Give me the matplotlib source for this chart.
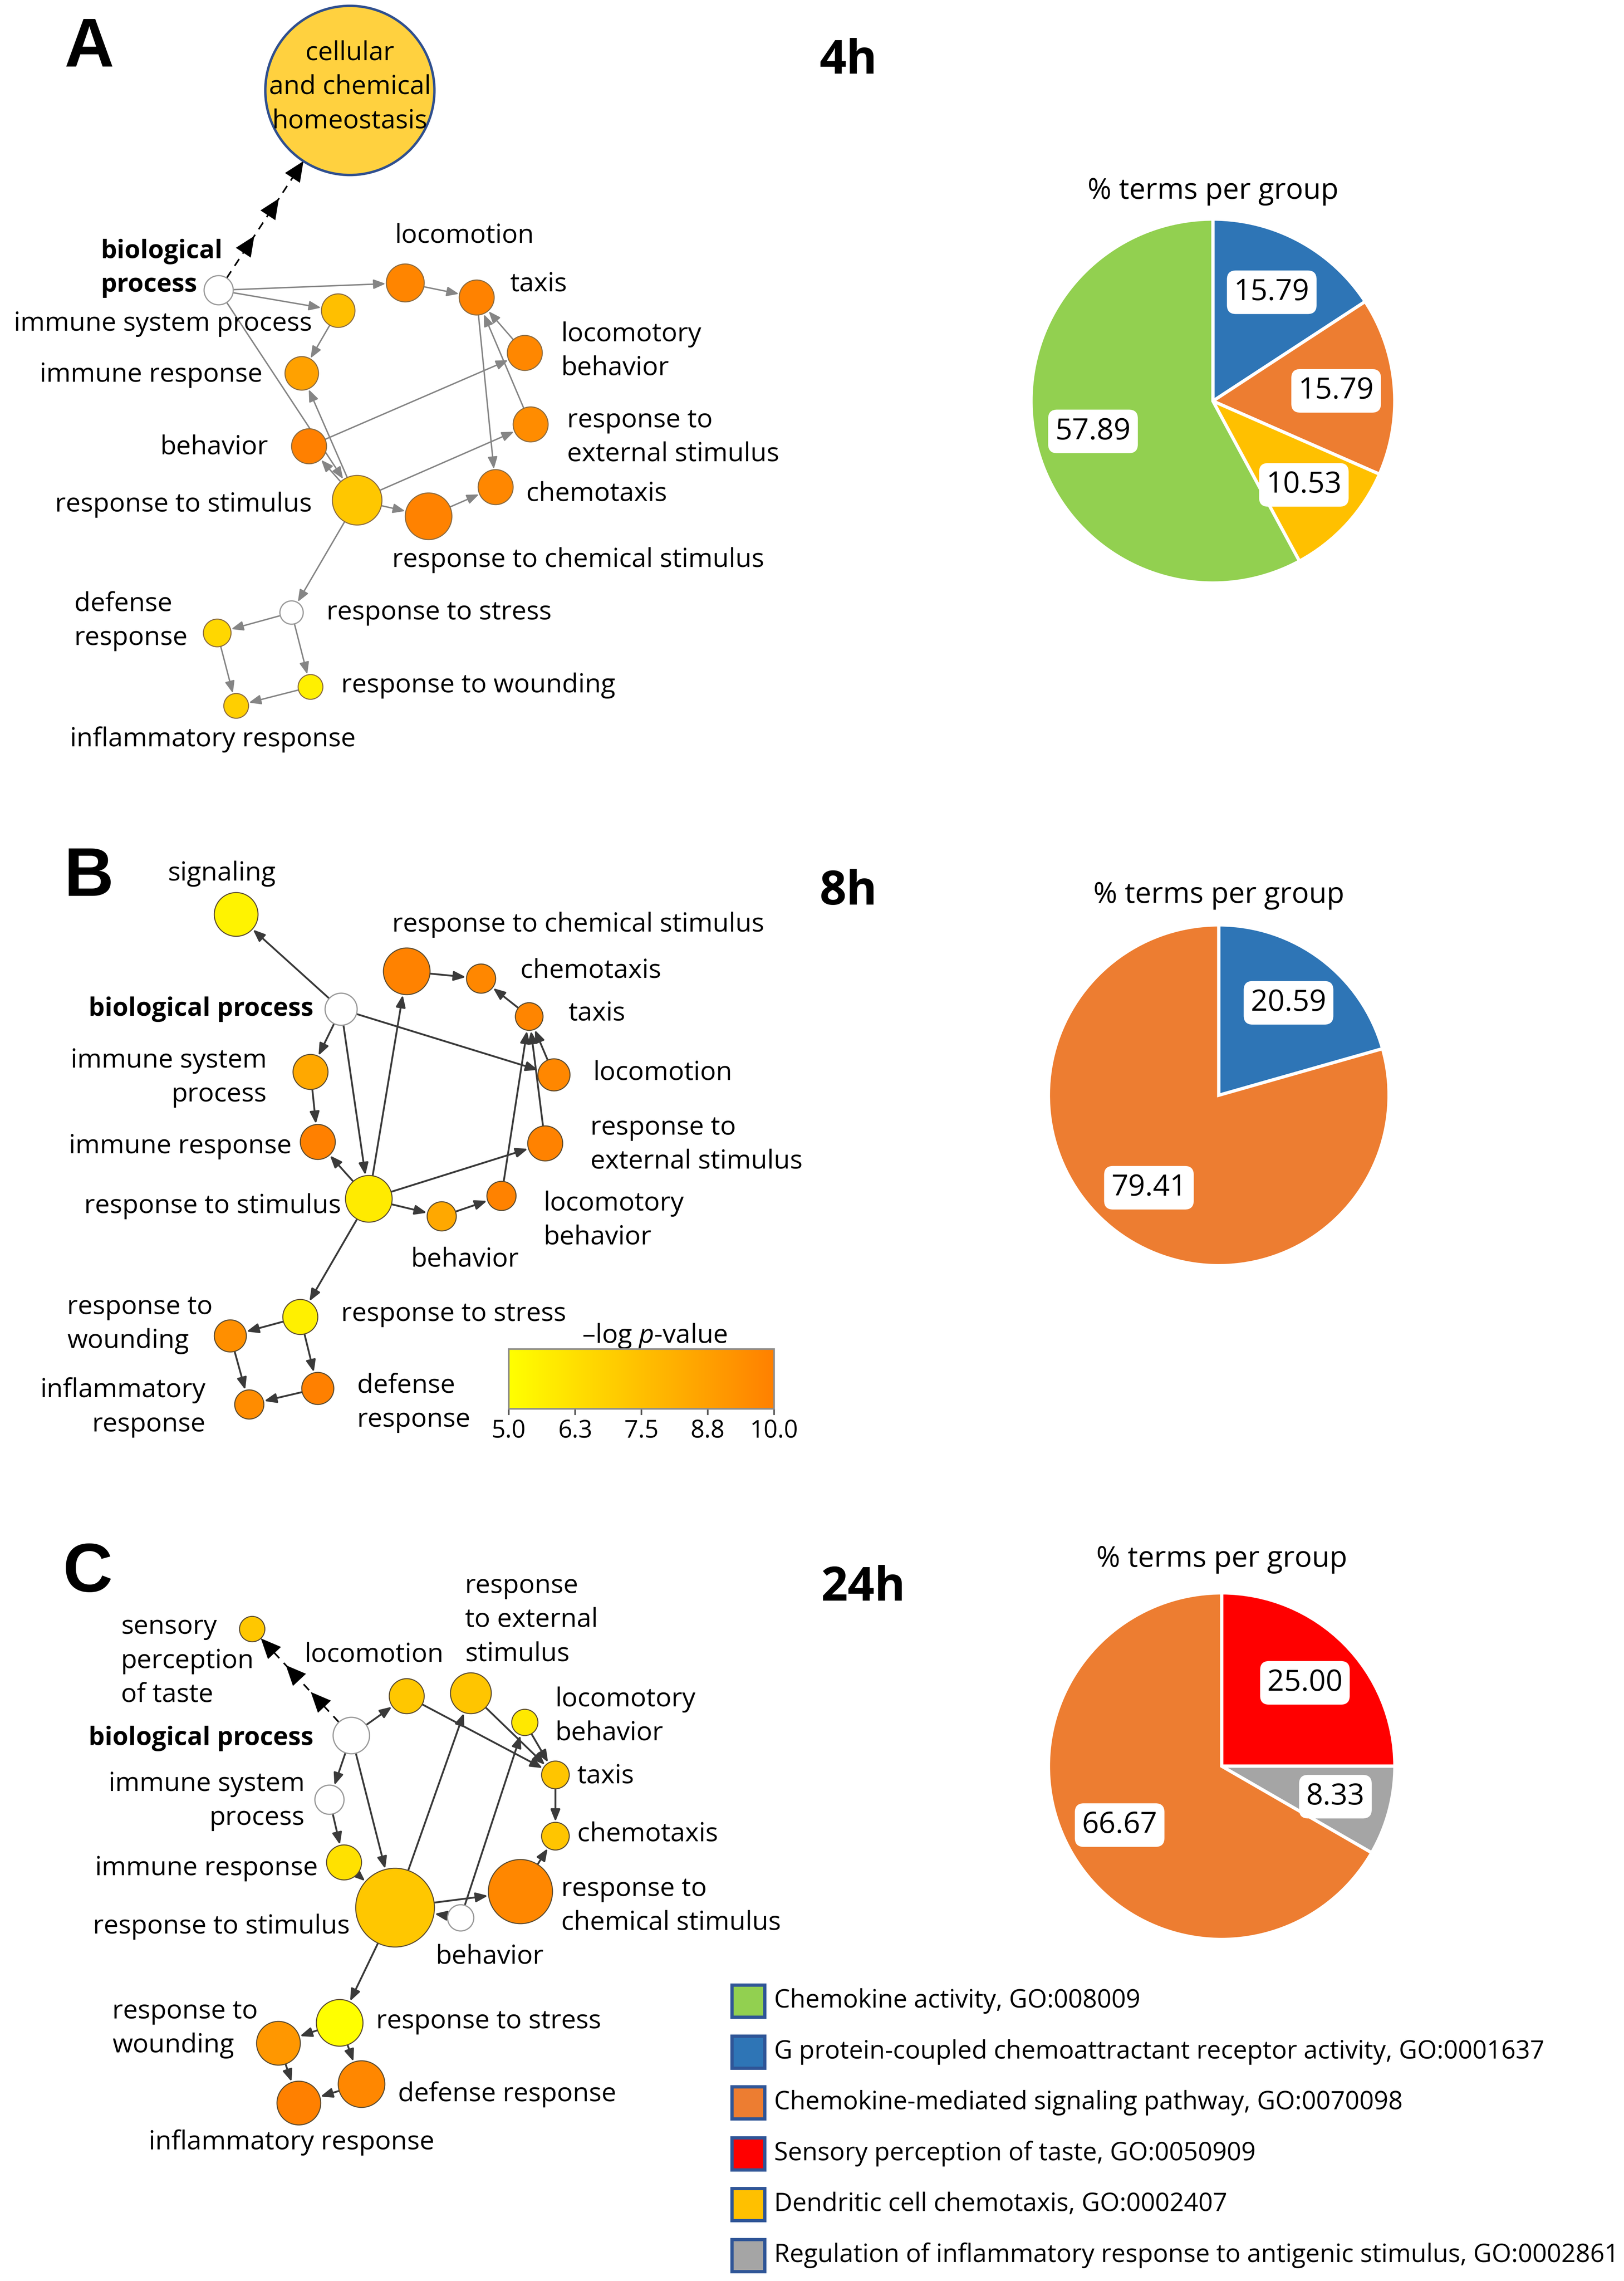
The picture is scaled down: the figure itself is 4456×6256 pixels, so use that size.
"""plot.py

GO term networks (panels A-C) with the matching pie charts of
% terms per group at 4h, 8h and 24h.
"""
import numpy as np
import matplotlib
matplotlib.use("Agg")
from matplotlib import pyplot as plt
from matplotlib import font_manager
from matplotlib.patches import Circle, Rectangle, FancyArrowPatch
from matplotlib.colors import LinearSegmentedColormap, Normalize
from matplotlib.cm import ScalarMappable

# ---------------------------------------------------------------- data
GROUPS = [
    "Chemokine activity, GO:008009",
    "G protein-coupled chemoattractant receptor activity, GO:0001637",
    "Chemokine-mediated signaling pathway, GO:0070098",
    "Sensory perception of taste, GO:0050909",
    "Dendritic cell chemotaxis, GO:0002407",
    "Regulation of inflammatory response to antigenic stimulus, GO:0002861",
]
GROUP_COLORS = ["#92D050", "#2E75B6", "#ED7D31", "#FF0000", "#FFC000", "#A5A5A5"]

PIE_4H_GROUPS = [1, 2, 4, 0]
PIE_4H_VALUES = [15.79, 15.79, 10.53, 57.89]
PIE_8H_GROUPS = [1, 2]
PIE_8H_VALUES = [20.59, 79.41]
PIE_24H_GROUPS = [3, 5, 2]
PIE_24H_VALUES = [25.00, 8.33, 66.67]

# -log p-value of each term (None = not enriched, drawn white)
TERMS_A = ["biological process", "cellular\nand chemical\nhomeostasis",
           "immune system process", "immune response", "locomotion", "taxis",
           "locomotory\nbehavior", "response to\nexternal stimulus", "chemotaxis",
           "behavior", "response to stimulus", "response to chemical stimulus",
           "response to stress", "defense\nresponse", "response to wounding",
           "inflammatory response"]
LOGP_A = [None, None, 7.5, 8.7, 9.8, 9.9, 9.7, 9.5, 9.7, 10.0, 7.2, 9.9,
          None, 6.6, 5.6, 6.9]
EDGES_A = [(0, 4), (0, 2), (0, 10), (2, 3), (10, 3), (10, 9), (9, 6), (10, 7),
           (10, 11), (11, 8), (4, 5), (5, 8), (6, 5), (7, 5), (10, 12),
           (12, 13), (12, 14), (13, 15), (14, 15)]
DASHED_A = [(0, 1)]

TERMS_B = ["biological process", "signaling", "response to chemical stimulus",
           "chemotaxis", "taxis", "locomotion", "immune system\nprocess",
           "immune response", "response to\nexternal stimulus",
           "response to stimulus", "behavior", "locomotory\nbehavior",
           "response to stress", "response to\nwounding", "defense\nresponse",
           "inflammatory\nresponse"]
LOGP_B = [None, 5.5, 9.9, 9.7, 9.8, 9.7, 8.4, 10.0, 9.9, 5.8, 8.4, 9.9,
          5.6, 9.4, 10.0, 9.5]
EDGES_B = [(0, 1), (0, 6), (0, 9), (0, 5), (6, 7), (9, 7), (9, 2), (2, 3),
           (4, 3), (5, 4), (8, 4), (11, 4), (9, 8), (9, 10), (10, 11),
           (9, 12), (12, 13), (12, 14), (13, 15), (14, 15)]

TERMS_C = ["biological process", "sensory\nperception\nof taste", "locomotion",
           "response\nto external\nstimulus", "locomotory\nbehavior", "taxis",
           "chemotaxis", "immune system\nprocess", "immune response",
           "response to stimulus", "behavior", "response to\nchemical stimulus",
           "response to stress", "response to\nwounding", "defense response",
           "inflammatory response"]
LOGP_C = [None, 7.2, 7.2, 7.3, 5.9, 7.3, 7.3, None, 6.2, 7.2, None, 9.7,
          5.0, 9.1, 9.7, 10.0]
EDGES_C = [(0, 2), (0, 7), (0, 9), (2, 5), (3, 5), (4, 5), (5, 6), (11, 6),
           (9, 3), (10, 4), (7, 8), (8, 9), (9, 11), (10, 9), (9, 12),
           (12, 13), (12, 14), (13, 15), (14, 15)]
DASHED_C = [(0, 1)]

CB_TICKS = [5.0, 6.25, 7.5, 8.75, 10.0]
CB_TICKLABELS = ["5.0", "6.3", "7.5", "8.8", "10.0"]

# ---------------------------------------------------------------- layout
# canvas units: 1 unit = 4 output pixels, y grows downwards
W, H = 1114, 1564

POS_A = [(150, 199), (240, 62), (232, 213), (207, 256), (278, 194), (327, 204),
         (360, 242), (364, 291), (340, 334), (212, 306), (245, 343),
         (294, 354), (200, 420), (149, 434), (213, 471), (162, 484)]
RAD_A = [10, 58, 11.5, 11.5, 13, 12, 12, 12, 12, 12, 17, 16, 8, 9.5, 8.5, 8.5]
LAB_A = [(69, 184, "left"), (240, 60, "center"), (214, 222, "right"),
         (180, 257, "right"), (271, 162, "left"), (350, 195, "left"),
         (385, 241, "left"), (389, 300, "left"), (361, 339, "left"),
         (184, 307, "right"), (214, 346, "right"), (269, 384, "left"),
         (224, 420, "left"), (51, 426, "left"), (234, 470, "left"),
         (48, 507, "left")]

POS_B = [(234, 692), (162, 627), (279, 666), (330, 671), (363, 697),
         (380, 737), (213, 735), (218, 783), (374, 784), (253, 822),
         (303, 834), (344, 820), (206, 903), (158, 916), (218, 952),
         (171, 963)]
RAD_B = [11, 15, 16, 10, 9.5, 11, 12, 12, 12, 16, 10, 10, 12, 11, 11, 10]
LAB_B = [(215, 692, "right"), (152, 599, "center"), (269, 634, "left"),
         (357, 666, "left"), (390, 695, "left"), (407, 736, "left"),
         (183, 739, "right"), (200, 786, "right"), (405, 785, "left"),
         (234, 827, "right"), (319, 864, "center"), (373, 837, "left"),
         (234, 901, "left"), (46, 908, "left"), (245, 962, "left"),
         (141, 965, "right")]

POS_C = [(241, 1190), (173, 1117), (279, 1163), (323, 1161), (360, 1181),
         (381, 1217), (381, 1259), (226, 1234), (236, 1277), (271, 1308),
         (316, 1315), (357, 1297), (233, 1387), (191, 1401), (248, 1429),
         (205, 1442)]
RAD_C = [12.5, 8.7, 12, 14, 9, 9.5, 9.5, 10, 12, 27, 9, 22, 16, 15, 16, 15]
LAB_C = [(215, 1192, "right"), (83, 1139, "left"), (209, 1135, "left"),
         (319, 1111, "left"), (381, 1177, "left"), (396, 1218, "left"),
         (396, 1258, "left"), (209, 1235, "right"), (218, 1281, "right"),
         (240, 1321, "right"), (336, 1342, "center"), (385, 1307, "left"),
         (258, 1386, "left"), (77, 1391, "left"), (273, 1436, "left"),
         (200, 1469, "center")]

_names = {f.name for f in font_manager.fontManager.ttflist}
NARROW = "Liberation Sans Narrow" if "Liberation Sans Narrow" in _names else "Open Sans"
NK = 1.0 if NARROW == "Liberation Sans Narrow" else 0.86
NET_FONT = "Open Sans"
NET_FS = 13

plt.rcParams["font.family"] = ["Open Sans", "DejaVu Sans"]
plt.rcParams["mathtext.fontset"] = "custom"
plt.rcParams["mathtext.it"] = "Open Sans:italic"
plt.rcParams["mathtext.rm"] = "Open Sans"

CMAP = LinearSegmentedColormap.from_list("logp", ["#FFFF00", "#FF8000"])
NORM = Normalize(5.0, 10.0)


def frac(x0, y0, x1, y1):
    """Canvas box -> figure fraction rect."""
    return [x0 / W, 1 - y1 / H, (x1 - x0) / W, (y1 - y0) / H]


def draw_edge(ax, p0, r0, p1, r1, color, lw, ms):
    p0, p1 = np.array(p0, float), np.array(p1, float)
    u = (p1 - p0) / np.hypot(*(p1 - p0))
    a, b = p0 + u * r0, p1 - u * (r1 + 0.5)
    ax.add_patch(FancyArrowPatch(a, b, arrowstyle="-|>,head_length=0.55,head_width=0.22",
                                 mutation_scale=ms, color=color, lw=lw,
                                 shrinkA=0, shrinkB=0, zorder=2))


def draw_dashed(ax, p0, r0, p1, r1):
    p0, p1 = np.array(p0, float), np.array(p1, float)
    u = (p1 - p0) / np.hypot(*(p1 - p0))
    a, b = p0 + u * r0, p1 - u * r1
    ax.plot([a[0], b[0]], [a[1], b[1]], color="black", lw=0.8,
            ls=(0, (5, 4)), zorder=2)
    for f in (0.36, 0.68, 1.0):
        tip = a + (b - a) * f
        ax.add_patch(FancyArrowPatch(tip - u * 9, tip,
                                     arrowstyle="-|>,head_length=0.9,head_width=0.4",
                                     mutation_scale=11, color="black", lw=0,
                                     shrinkA=0, shrinkB=0, zorder=3))


def draw_network(ax, terms, logp, edges, pos, rad, lab, edge_color, edge_lw,
                 node_ec, dashed=(), big=None):
    for s, t in edges:
        draw_edge(ax, pos[s], rad[s], pos[t], rad[t], edge_color, edge_lw, 9)
    for s, t in dashed:
        draw_dashed(ax, pos[s], rad[s], pos[t], rad[t])
    for i, term in enumerate(terms):
        if big is not None and i == big:
            fc, ec, lw = "#FFD13F", "#2F4F8F", 1.2
        elif logp[i] is None:
            fc, ec, lw = "white", "#9A9A9A", 0.6
        else:
            fc, ec, lw = CMAP(NORM(logp[i])), node_ec, 0.5
        ax.add_patch(Circle(pos[i], rad[i], fc=fc, ec=ec, lw=lw, zorder=4))
        x, y, ha = lab[i]
        bold = term == "biological process"
        txt = "biological\nprocess" if bold and ha == "left" else term
        ax.text(x, y, txt, ha=ha, va="center", multialignment=ha,
                fontsize=12.6 if bold else NET_FS, family=NET_FONT,
                linespacing=1.4, fontweight="bold" if bold else "normal",
                zorder=5)


def draw_pie(fig, cx, cy, r, values, groups, title, ty):
    pax = fig.add_axes(frac(cx - r, cy - r, cx + r, cy + r))
    _, _, autos = pax.pie(values, colors=[GROUP_COLORS[g] for g in groups],
                          startangle=90, counterclock=False, radius=1,
                          wedgeprops=dict(edgecolor="white", linewidth=1.6),
                          autopct="%.2f", pctdistance=0.68,
                          textprops=dict(family=NARROW, fontsize=17 * NK))
    for t in autos:
        t.set_bbox(dict(boxstyle="round,pad=0.24,rounding_size=0.3",
                        fc="white", ec="none"))
    pax.set_xlim(-1.01, 1.01)
    pax.set_ylim(-1.01, 1.01)
    pax.axis("off")
    fig.text(cx / W, 1 - ty / H, title, ha="center", va="center",
             family=NARROW, fontsize=16.6 * NK)


def main():
    fig = plt.figure(figsize=(W * 4 / 400, H * 4 / 400), dpi=400)
    ax = fig.add_axes([0, 0, 1, 1])
    ax.set_xlim(0, W)
    ax.set_ylim(H, 0)
    ax.axis("off")

    draw_network(ax, TERMS_A, LOGP_A, EDGES_A, POS_A, RAD_A, LAB_A,
                 "#858585", 0.7, "#8A6A40", dashed=DASHED_A, big=1)
    draw_network(ax, TERMS_B, LOGP_B, EDGES_B, POS_B, RAD_B, LAB_B,
                 "#3A3A3A", 0.9, "#5A4A30")
    draw_network(ax, TERMS_C, LOGP_C, EDGES_C, POS_C, RAD_C, LAB_C,
                 "#3A3A3A", 0.9, "#5A4A30", dashed=DASHED_C)

    for letter, x, y in (("A", 61, 33), ("B", 61, 602), ("C", 60, 1079)):
        ax.text(x, y, letter, ha="center", va="center", fontsize=34,
                family="Liberation Sans", fontweight="bold")
    for lbl, x, y in (("4h", 582, 42), ("8h", 582, 612), ("24h", 592, 1089)):
        ax.text(x, y, lbl, ha="center", va="center", fontsize=27 * NK,
                family=NARROW, fontweight="bold")

    # colour scale of the networks
    cax = fig.add_axes(frac(349, 925, 531, 966))
    cb = fig.colorbar(ScalarMappable(NORM, CMAP), cax=cax,
                      orientation="horizontal", ticks=CB_TICKS)
    cb.set_ticklabels(CB_TICKLABELS)
    cb.outline.set_edgecolor("#8C8C8C")
    cb.outline.set_linewidth(0.8)
    cax.tick_params(length=3, width=0.8, color="#555555", pad=2,
                    labelsize=14 * NK)
    for t in cax.get_xticklabels():
        t.set_family(NARROW)
    ax.text(449, 916, "\u2013log $p$-value", ha="center", va="center",
            fontsize=13, family=NET_FONT)

    draw_pie(fig, 832, 275, 126, PIE_4H_VALUES, PIE_4H_GROUPS,
             "% terms per group", 131)
    draw_pie(fig, 836, 751, 118, PIE_8H_VALUES, PIE_8H_GROUPS,
             "% terms per group", 614)
    draw_pie(fig, 838, 1211, 120, PIE_24H_VALUES, PIE_24H_GROUPS,
             "% terms per group", 1069)

    # legend of the term groups
    for i, (name, col) in enumerate(zip(GROUPS, GROUP_COLORS)):
        y = 1372 + i * 34.9
        ax.add_patch(Rectangle((502, y - 11), 22.5, 22, fc=col, ec="#2F5597",
                               lw=1.6, zorder=4))
        ax.text(531, y, name, ha="left", va="center", family=NARROW,
                fontsize=14.5 * NK)

    fig.savefig("out.png", dpi=400)


if __name__ == "__main__":
    main()
